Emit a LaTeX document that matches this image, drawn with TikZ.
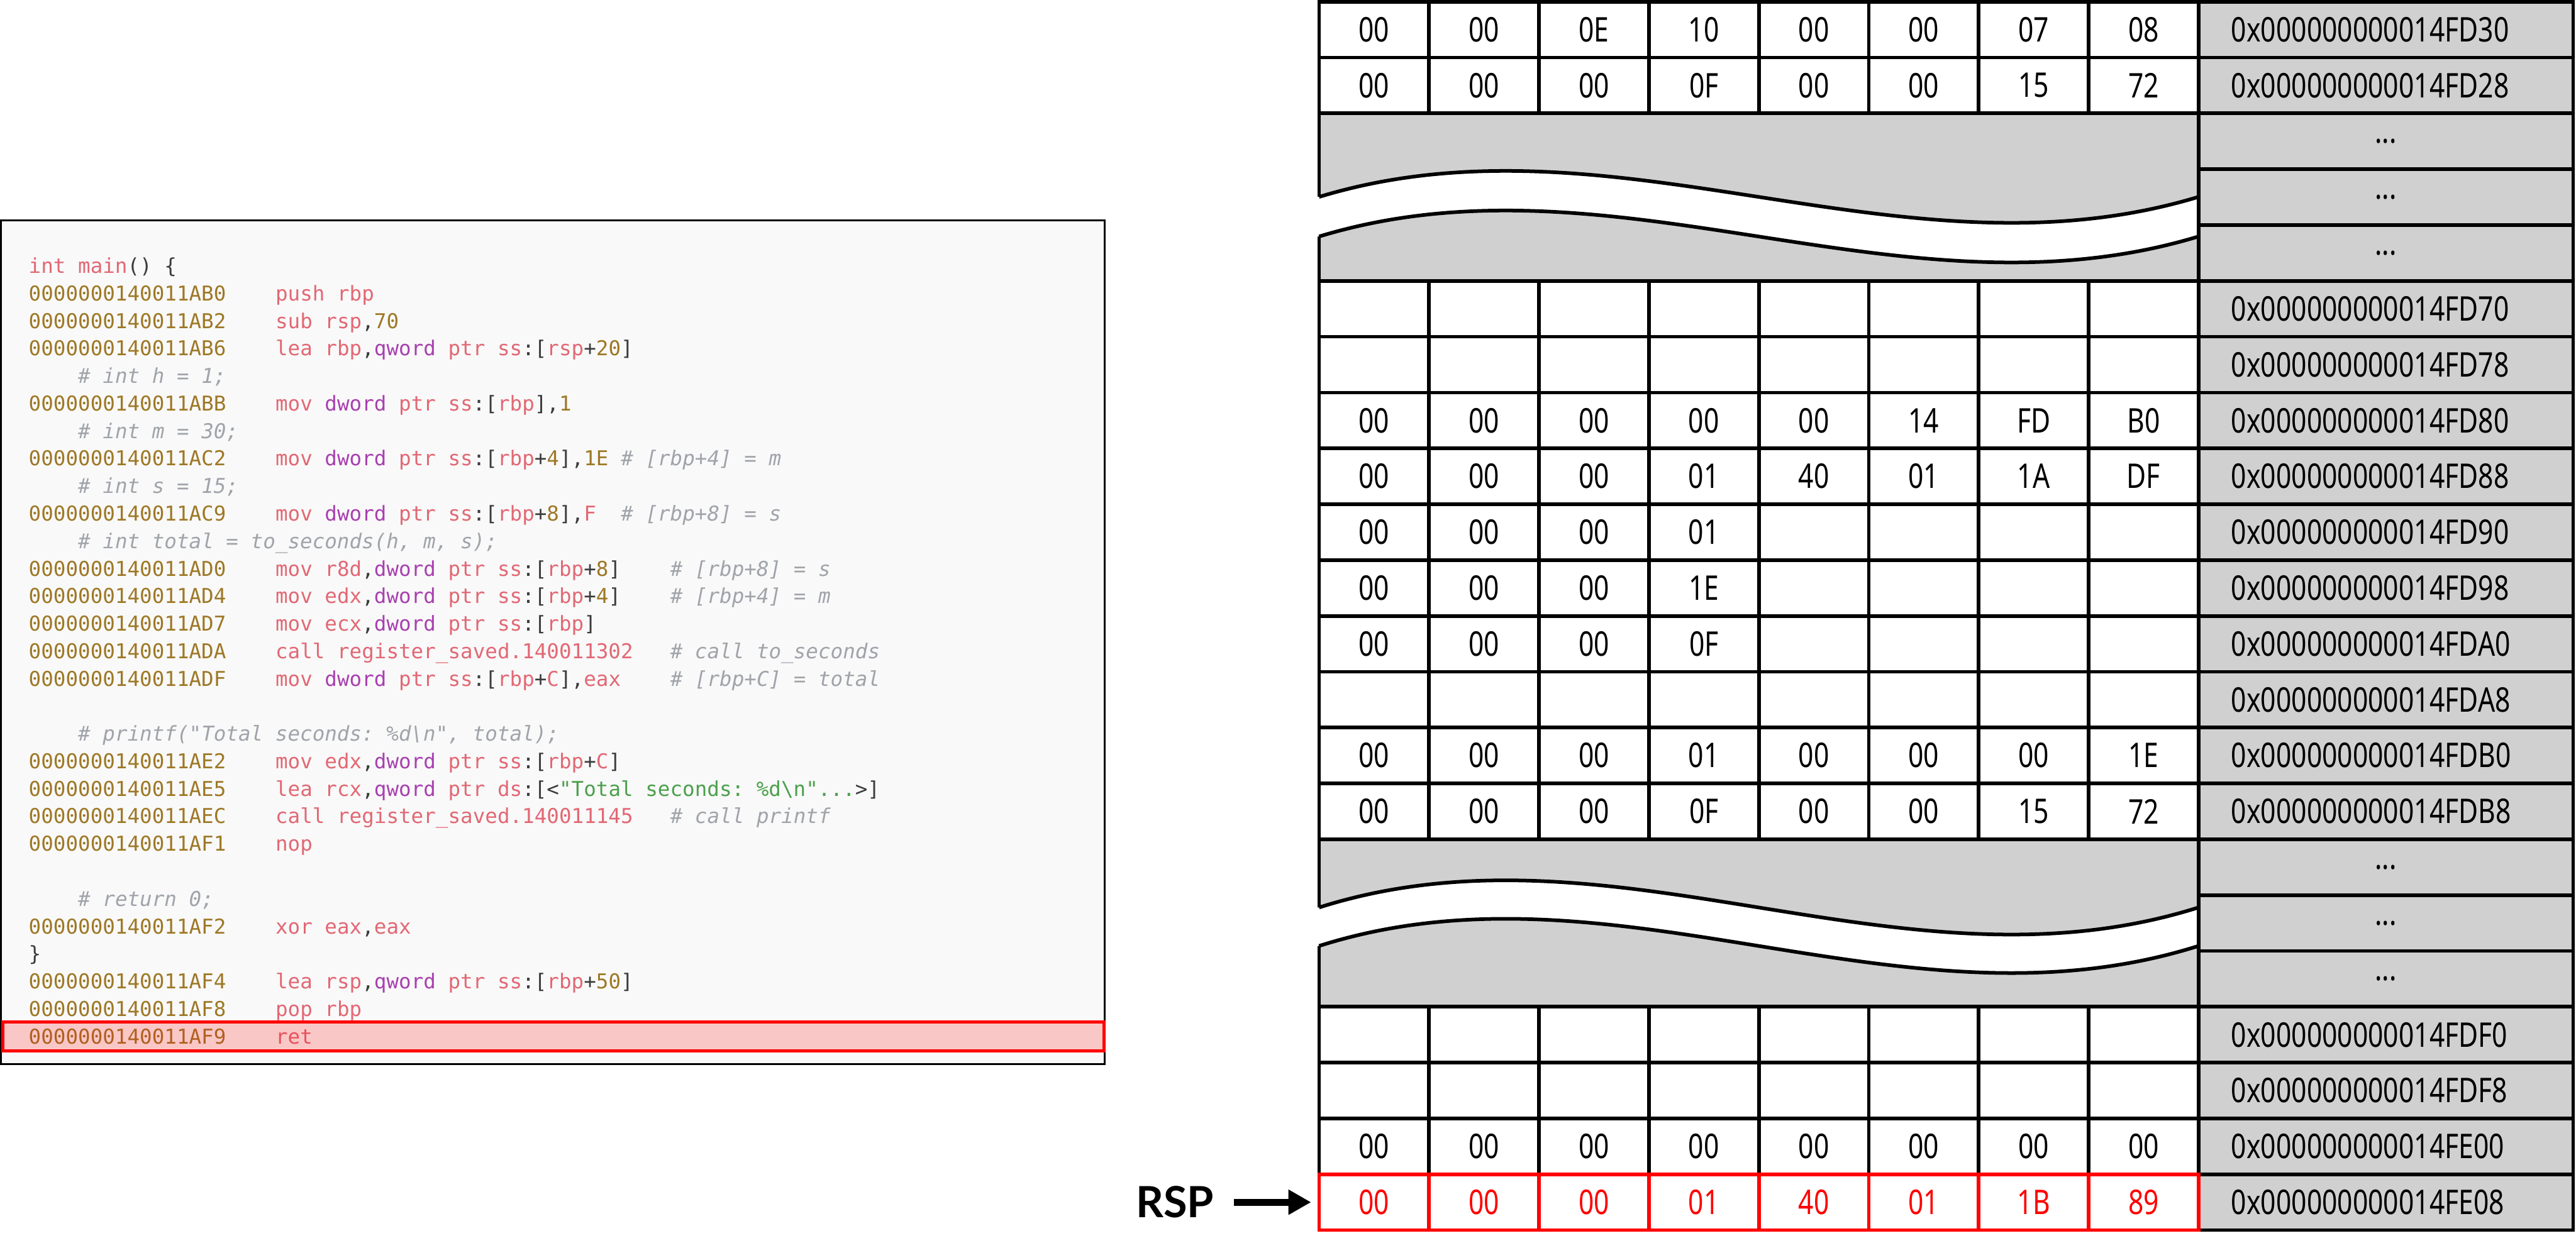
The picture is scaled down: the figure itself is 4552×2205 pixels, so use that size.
\documentclass[tikz,border=0pt]{standalone}
\usepackage{fontspec}
\setmainfont{Noto Sans}
\setmonofont{DejaVu Sans Mono}
\newfontfamily\memfont[FakeStretch=0.79]{Noto Sans}
\newfontfamily\rspfont{Lato}
\usetikzlibrary{arrows.meta}
\definecolor{kw}{RGB}{226,104,116}
\definecolor{pu}{RGB}{168,64,176}
\definecolor{gold}{RGB}{158,120,38}
\definecolor{dk}{RGB}{60,60,60}
\definecolor{cm}{RGB}{160,164,170}
\definecolor{gr}{RGB}{76,160,76}
\definecolor{codebg}{RGB}{249,249,249}
\definecolor{addrgray}{RGB}{208,208,208}
\newcommand\Ckw[1]{\textcolor{kw}{#1}}
\newcommand\Cpu[1]{\textcolor{pu}{#1}}
\newcommand\Cnum[1]{\textcolor{gold}{#1}}
\newcommand\Cdk[1]{\textcolor{dk}{#1}}
\newcommand\Ccm[1]{\textcolor{cm}{\itshape #1}}
\newcommand\Cstr[1]{\textcolor{gr}{#1}}
\newcommand\codeat[4]{\node[codetext] (#1) at ({50+21.8*#2},{483+48.64*#3}) {#4};}
\newcommand\memrow[4]{%
  \node[addrbox] (ad#1) at (4216,{3+98.7*(#1+0.5)}) {};
  \node[addrtext] (at#1) at (3942,{3+98.7*(#1+0.5)}) {#3};
  \foreach \b [count=\c from 0] in {#2} {
    \node[cellbox,#4] (m#1-\c) at ({2331+194.25*(\c+0.5)},{3+98.7*(#1+0.5)}) {\b};
  }%
}
\begin{document}
\begin{tikzpicture}[x=0.25pt,y=-0.25pt,
  codetext/.style={anchor=base west,inner sep=0pt,font=\ttfamily\fontsize{9.05pt}{11pt}\selectfont},
  memtext/.style={font=\memfont\fontsize{15pt}{17pt}\selectfont,text=black},
  cellbox/.style={memtext,draw=black,line width=1.6pt,fill=white,minimum width=48.5625pt,minimum height=24.675pt,inner sep=0pt},
  addrbox/.style={cellbox,fill=addrgray,minimum width=165.5pt},
  addrtext/.style={memtext,anchor=west,inner sep=0pt},
  redcell/.style={draw=red,text=red},
  breakbox/.style={draw=black,line width=1.6pt,fill=addrgray,minimum width=388.5pt,minimum height=74.025pt,inner sep=0pt},
  wave/.style={draw=black,line width=1.6pt}]
\useasboundingbox (0,0) rectangle (4552,2205);
\fill[white] (0,0) rectangle (4552,2205);
% ---------- code panel ----------
\node[draw=black,line width=0.8pt,fill=codebg,minimum width=487.75pt,minimum height=372.75pt,inner sep=0pt] (codebox) at (977,1135.5) {};
\codeat{l0}{0}{0}{\Ckw{int main}\Cdk{() \{}}
\codeat{l1a}{0}{1}{\Cnum{0000000140011AB0}}
\codeat{l1b}{20}{1}{\Ckw{push rbp}}
\codeat{l2a}{0}{2}{\Cnum{0000000140011AB2}}
\codeat{l2b}{20}{2}{\Ckw{sub rsp}\Cdk{,}\Cnum{70}}
\codeat{l3a}{0}{3}{\Cnum{0000000140011AB6}}
\codeat{l3b}{20}{3}{\Ckw{lea rbp}\Cdk{,}\Cpu{qword} \Ckw{ptr ss}\Cdk{:[}\Ckw{rsp}\Cdk{+}\Cnum{20}\Cdk{]}}
\codeat{l4}{4}{4}{\Ccm{\# int h = 1;}}
\codeat{l5a}{0}{5}{\Cnum{0000000140011ABB}}
\codeat{l5b}{20}{5}{\Ckw{mov} \Cpu{dword} \Ckw{ptr ss}\Cdk{:[}\Ckw{rbp}\Cdk{],}\Cnum{1}}
\codeat{l6}{4}{6}{\Ccm{\# int m = 30;}}
\codeat{l7a}{0}{7}{\Cnum{0000000140011AC2}}
\codeat{l7b}{20}{7}{\Ckw{mov} \Cpu{dword} \Ckw{ptr ss}\Cdk{:[}\Ckw{rbp}\Cdk{+}\Cnum{4}\Cdk{],}\Cnum{1E}}
\codeat{l7c}{48}{7}{\Ccm{\# [rbp+4] = m}}
\codeat{l8}{4}{8}{\Ccm{\# int s = 15;}}
\codeat{l9a}{0}{9}{\Cnum{0000000140011AC9}}
\codeat{l9b}{20}{9}{\Ckw{mov} \Cpu{dword} \Ckw{ptr ss}\Cdk{:[}\Ckw{rbp}\Cdk{+}\Cnum{8}\Cdk{],}\Ckw{F}}
\codeat{l9c}{48}{9}{\Ccm{\# [rbp+8] = s}}
\codeat{l10}{4}{10}{\Ccm{\# int total = to\_seconds(h, m, s);}}
\codeat{l11a}{0}{11}{\Cnum{0000000140011AD0}}
\codeat{l11b}{20}{11}{\Ckw{mov r8d}\Cdk{,}\Cpu{dword} \Ckw{ptr ss}\Cdk{:[}\Ckw{rbp}\Cdk{+}\Cnum{8}\Cdk{]}}
\codeat{l11c}{52}{11}{\Ccm{\# [rbp+8] = s}}
\codeat{l12a}{0}{12}{\Cnum{0000000140011AD4}}
\codeat{l12b}{20}{12}{\Ckw{mov edx}\Cdk{,}\Cpu{dword} \Ckw{ptr ss}\Cdk{:[}\Ckw{rbp}\Cdk{+}\Cnum{4}\Cdk{]}}
\codeat{l12c}{52}{12}{\Ccm{\# [rbp+4] = m}}
\codeat{l13a}{0}{13}{\Cnum{0000000140011AD7}}
\codeat{l13b}{20}{13}{\Ckw{mov ecx}\Cdk{,}\Cpu{dword} \Ckw{ptr ss}\Cdk{:[}\Ckw{rbp}\Cdk{]}}
\codeat{l14a}{0}{14}{\Cnum{0000000140011ADA}}
\codeat{l14b}{20}{14}{\Ckw{call register\_saved.140011302}}
\codeat{l14c}{52}{14}{\Ccm{\# call to\_seconds}}
\codeat{l15a}{0}{15}{\Cnum{0000000140011ADF}}
\codeat{l15b}{20}{15}{\Ckw{mov} \Cpu{dword} \Ckw{ptr ss}\Cdk{:[}\Ckw{rbp}\Cdk{+}\Ckw{C}\Cdk{],}\Ckw{eax}}
\codeat{l15c}{52}{15}{\Ccm{\# [rbp+C] = total}}
\codeat{l17}{4}{17}{\Ccm{\# printf("Total seconds: \%d\textbackslash{}n", total);}}
\codeat{l18a}{0}{18}{\Cnum{0000000140011AE2}}
\codeat{l18b}{20}{18}{\Ckw{mov edx}\Cdk{,}\Cpu{dword} \Ckw{ptr ss}\Cdk{:[}\Ckw{rbp}\Cdk{+}\Ckw{C}\Cdk{]}}
\codeat{l19a}{0}{19}{\Cnum{0000000140011AE5}}
\codeat{l19b}{20}{19}{\Ckw{lea rcx}\Cdk{,}\Cpu{qword} \Ckw{ptr ds}\Cdk{:[<}\Cstr{"Total seconds: \%d\textbackslash{}n"...}\Cdk{>]}}
\codeat{l20a}{0}{20}{\Cnum{0000000140011AEC}}
\codeat{l20b}{20}{20}{\Ckw{call register\_saved.140011145}}
\codeat{l20c}{52}{20}{\Ccm{\# call printf}}
\codeat{l21a}{0}{21}{\Cnum{0000000140011AF1}}
\codeat{l21b}{20}{21}{\Ckw{nop}}
\codeat{l23}{4}{23}{\Ccm{\# return 0;}}
\codeat{l24a}{0}{24}{\Cnum{0000000140011AF2}}
\codeat{l24b}{20}{24}{\Ckw{xor eax}\Cdk{,}\Ckw{eax}}
\codeat{l25}{0}{25}{\Cdk{\}}}
\codeat{l26a}{0}{26}{\Cnum{0000000140011AF4}}
\codeat{l26b}{20}{26}{\Ckw{lea rsp}\Cdk{,}\Cpu{qword} \Ckw{ptr ss}\Cdk{:[}\Ckw{rbp}\Cdk{+}\Cnum{50}\Cdk{]}}
\codeat{l27a}{0}{27}{\Cnum{0000000140011AF8}}
\codeat{l27b}{20}{27}{\Ckw{pop rbp}}
\codeat{l28a}{0}{28}{\Cnum{0000000140011AF9}}
\codeat{l28b}{20}{28}{\Ckw{ret}}
\node[draw=red,line width=1.4pt,fill=red,fill opacity=0.2,minimum width=486.5pt,minimum height=13pt,inner sep=0pt] (hl) at (978,1832) {};
% ---------- memory table ----------
\memrow{0}{00,00,0E,10,00,00,07,08}{0x000000000014FD30}{}
\memrow{1}{00,00,00,0F,00,00,15,72}{0x000000000014FD28}{}
\node[breakbox] (brk1) at (3108,348.45) {};
\fill[white] (2318,348) -- (2331,348) .. controls (2854,189) and (3360,507) .. (3885,348) -- (3885,418) .. controls (3360,577) and (2854,259) .. (2331,418) -- (2318,418) -- cycle;
\draw[wave] (2331,348) .. controls (2854,189) and (3360,507) .. (3885,348);
\draw[wave] (2331,418) .. controls (2854,259) and (3360,577) .. (3885,418);
\foreach \r in {2,3,4} {\node[addrbox] (ad\r) at (4216,{3+98.7*(\r+0.5)}) {...};}
\memrow{5}{{},{},{},{},{},{},{},{}}{0x000000000014FD70}{}
\memrow{6}{{},{},{},{},{},{},{},{}}{0x000000000014FD78}{}
\memrow{7}{00,00,00,00,00,14,FD,B0}{0x000000000014FD80}{}
\memrow{8}{00,00,00,01,40,01,1A,DF}{0x000000000014FD88}{}
\memrow{9}{00,00,00,01,{},{},{},{}}{0x000000000014FD90}{}
\memrow{10}{00,00,00,1E,{},{},{},{}}{0x000000000014FD98}{}
\memrow{11}{00,00,00,0F,{},{},{},{}}{0x000000000014FDA0}{}
\memrow{12}{{},{},{},{},{},{},{},{}}{0x000000000014FDA8}{}
\memrow{13}{00,00,00,01,00,00,00,1E}{0x000000000014FDB0}{}
\memrow{14}{00,00,00,0F,00,00,15,72}{0x000000000014FDB8}{}
\node[breakbox] (brk2) at (3108,1631.55) {};
\fill[white] (2318,1604) -- (2331,1604) .. controls (2854,1438) and (3360,1770) .. (3885,1604) -- (3885,1672) .. controls (3360,1838) and (2854,1506) .. (2331,1672) -- (2318,1672) -- cycle;
\draw[wave] (2331,1604) .. controls (2854,1438) and (3360,1770) .. (3885,1604);
\draw[wave] (2331,1672) .. controls (2854,1506) and (3360,1838) .. (3885,1672);
\foreach \r in {15,16,17} {\node[addrbox] (ad\r) at (4216,{3+98.7*(\r+0.5)}) {...};}
\memrow{18}{{},{},{},{},{},{},{},{}}{0x000000000014FDF0}{}
\memrow{19}{{},{},{},{},{},{},{},{}}{0x000000000014FDF8}{}
\memrow{20}{00,00,00,00,00,00,00,00}{0x000000000014FE00}{}
\memrow{21}{00,00,00,01,40,01,1B,89}{0x000000000014FE08}{redcell}
% ---------- RSP pointer ----------
\node[inner sep=0pt,font=\rspfont\bfseries\fontsize{19pt}{21pt}\selectfont] (rsp) at (2076,{3+98.7*21.5}) {RSP};
\draw[line width=3pt,-{Triangle[length=10pt,width=10.5pt]},shorten <=8.75pt,shorten >=2.75pt] (rsp) -- (m21-0);
\end{tikzpicture}
\end{document}
